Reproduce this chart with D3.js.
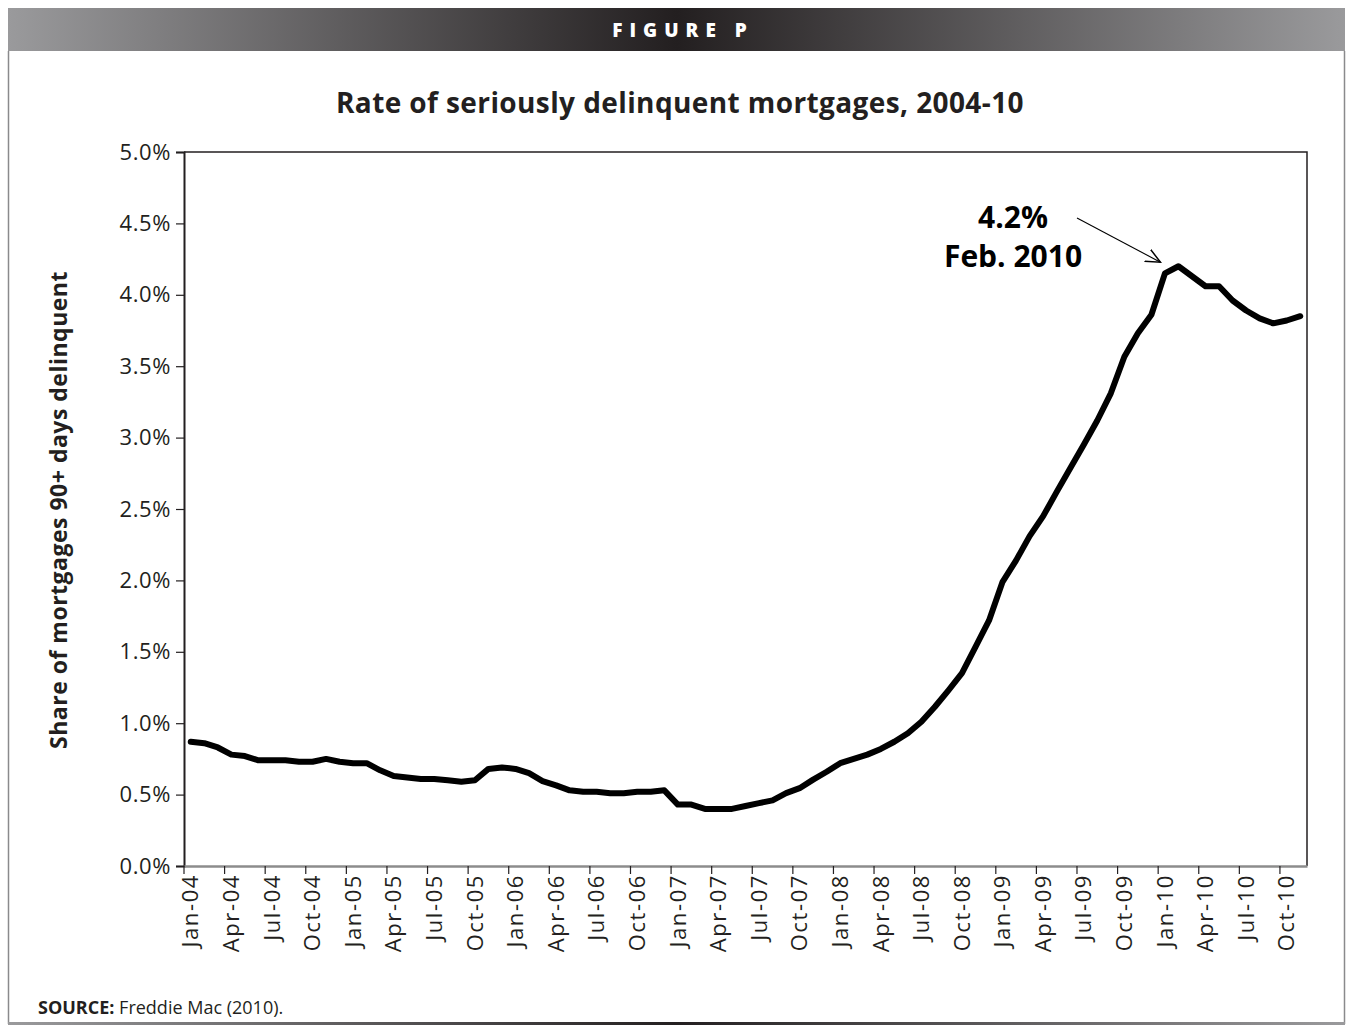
<!DOCTYPE html>
<html>
<head>
<meta charset="utf-8">
<script src="https://cdn.jsdelivr.net/npm/d3@7"></script>
<style>
  html, body { margin: 0; padding: 0; background: #fff; }
  svg { display: block; }
</style>
</head>
<body>
<script>
// ---- Data ----
const monthNames = ["Jan","Feb","Mar","Apr","May","Jun","Jul","Aug","Sep","Oct","Nov","Dec"];
const years = ["04","05","06","07","08","09","10"];
const months = [];
years.forEach(y => monthNames.forEach(m => months.push(m + "-" + y)));
months.splice(83); // Jan-04 .. Nov-10

const values = [
  0.87, 0.86, 0.83, 0.78, 0.77, 0.74, 0.74, 0.74, 0.73, 0.73, 0.75, 0.73,
  0.72, 0.72, 0.67, 0.63, 0.62, 0.61, 0.61, 0.60, 0.59, 0.60, 0.68, 0.69,
  0.68, 0.65, 0.595, 0.565, 0.53, 0.52, 0.52, 0.51, 0.51, 0.52, 0.52, 0.53,
  0.43, 0.43, 0.40, 0.40, 0.40, 0.42, 0.44, 0.46, 0.51, 0.545, 0.605, 0.66,
  0.72, 0.75, 0.78, 0.82, 0.87, 0.93, 1.01, 1.115, 1.23, 1.35, 1.535, 1.72,
  1.99, 2.14, 2.31, 2.45, 2.62, 2.785, 2.95, 3.12, 3.31, 3.566, 3.73, 3.86,
  4.15, 4.20, 4.13, 4.06, 4.06, 3.96, 3.89, 3.835, 3.80, 3.82, 3.85
];

const xTickLabels = months.filter((m, i) => i % 3 === 0);
const yTicks = [0, 0.5, 1.0, 1.5, 2.0, 2.5, 3.0, 3.5, 4.0, 4.5, 5.0];

const titleText = "Rate of seriously delinquent mortgages, 2004-10";
const yLabelText = "Share of mortgages 90+ days delinquent";
const figureText = "FIGURE P";
const annotValue = "4.2%";
const annotDate = "Feb. 2010";
const annotMonth = "Feb-10";

// ---- Layout ----
const W = 1353, H = 1027;
const plot = { left: 184, right: 1307, top: 152, bottom: 866 };
const FONT = "'Open Sans', 'Noto Sans', sans-serif";

const svg = d3.select("body").append("svg").attr("width", W).attr("height", H);

const defs = svg.append("defs");
const grad = defs.append("linearGradient").attr("id", "hdr").attr("x1", "0%").attr("x2", "100%");
grad.append("stop").attr("offset", "0%").attr("stop-color", "#9a9a9c");
grad.append("stop").attr("offset", "50%").attr("stop-color", "#231f20");
grad.append("stop").attr("offset", "100%").attr("stop-color", "#9a9a9c");

const mk = defs.append("marker").attr("id", "arrow")
  .attr("viewBox", "0 0 12 12").attr("refX", 11).attr("refY", 6)
  .attr("markerWidth", 16).attr("markerHeight", 16).attr("markerUnits", "userSpaceOnUse")
  .attr("orient", "auto");
mk.append("path").attr("d", "M0,1 L11,6 L0,11").attr("fill", "none").attr("stroke", "#000").attr("stroke-width", 1.1);

// Header bar
svg.append("rect").attr("x", 8).attr("y", 8).attr("width", 1337).attr("height", 43).attr("fill", "url(#hdr)");
svg.append("text").attr("x", 683).attr("y", 37).attr("text-anchor", "middle")
  .attr("fill", "#fff").attr("font-family", FONT).attr("font-weight", 800)
  .attr("font-size", 19).attr("letter-spacing", 7).text(figureText);

// Frame
svg.append("line").attr("x1", 8.5).attr("x2", 8.5).attr("y1", 51).attr("y2", 1024).attr("stroke", "#8a8a8c").attr("stroke-width", 1.5);
svg.append("line").attr("x1", 1344.5).attr("x2", 1344.5).attr("y1", 51).attr("y2", 1024).attr("stroke", "#8a8a8c").attr("stroke-width", 1.5);
svg.append("rect").attr("x", 8).attr("y", 1022).attr("width", 1337).attr("height", 3).attr("fill", "url(#hdr)");

// Title
svg.append("text").attr("x", 680).attr("y", 113).attr("text-anchor", "middle")
  .attr("font-family", FONT).attr("font-weight", 700).attr("font-size", 28)
  .attr("letter-spacing", 0.4)
  .attr("fill", "#231f20").text(titleText);

// Scales
const x = d3.scaleBand().domain(months).range([plot.left, plot.right]).padding(0);
const y = d3.scaleLinear().domain([0, 5]).range([plot.bottom, plot.top]);
const bw = x.bandwidth();

// Plot border (top/right)
svg.append("path")
  .attr("d", `M${plot.left},${plot.top}H${plot.right}V${plot.bottom}`)
  .attr("fill", "none").attr("stroke", "#231f20").attr("stroke-width", 1.5);

// Y axis
const yAxis = svg.append("g").attr("transform", `translate(${plot.left},0)`)
  .call(d3.axisLeft(y).tickValues(yTicks).tickSize(8).tickPadding(5)
    .tickFormat(d => d3.format(".1f")(d) + "%"));
yAxis.select(".domain").attr("stroke", "#231f20").attr("stroke-width", 2);
yAxis.selectAll(".tick line").attr("stroke", "#231f20").attr("stroke-width", 1.2);
yAxis.selectAll(".tick text").attr("font-family", FONT).attr("font-size", 22)
  .attr("letter-spacing", 0.6).attr("fill", "#231f20");

// X axis
const xAxis = svg.append("g").attr("transform", `translate(0,${plot.bottom})`)
  .call(d3.axisBottom(x).tickValues(xTickLabels).tickSize(8).tickSizeOuter(0).tickPadding(6));
xAxis.select(".domain").attr("stroke", "#8c8c8c").attr("stroke-width", 2.5);
xAxis.selectAll(".tick line").attr("transform", `translate(${-bw / 2},0)`)
  .attr("stroke", "#231f20").attr("stroke-width", 1.2);
xAxis.selectAll(".tick text")
  .attr("font-family", FONT).attr("font-size", 22).attr("fill", "#231f20")
  .attr("letter-spacing", 1.6)
  .attr("text-anchor", "end").attr("dy", "0.35em")
  .attr("transform", "translate(0,8) rotate(-90)")
  .attr("x", 0).attr("y", 0);

// Y axis label
svg.append("text")
  .attr("transform", `translate(67,${(plot.top + plot.bottom) / 2 + 1}) rotate(-90)`)
  .attr("text-anchor", "middle").attr("font-family", FONT).attr("font-weight", 700)
  .attr("font-size", 23).attr("letter-spacing", 0.5).attr("fill", "#231f20").text(yLabelText);

// Line
const line = d3.line()
  .x((d, i) => x(months[i]) + bw / 2)
  .y(d => y(d));
svg.append("path").datum(values).attr("d", line)
  .attr("fill", "none").attr("stroke", "#000").attr("stroke-width", 6)
  .attr("stroke-linejoin", "round").attr("stroke-linecap", "round");

// Annotation
const peakIdx = months.indexOf(annotMonth);
const px = x(months[peakIdx]) + bw / 2;
const py = y(values[peakIdx]);
svg.append("text").attr("x", 1013).attr("y", 228).attr("text-anchor", "middle")
  .attr("font-family", FONT).attr("font-weight", 700).attr("font-size", 30).attr("fill", "#000").text(annotValue);
svg.append("text").attr("x", 1013).attr("y", 267).attr("text-anchor", "middle")
  .attr("font-family", FONT).attr("font-weight", 700).attr("font-size", 30).attr("fill", "#000").text(annotDate);
svg.append("line").attr("x1", 1077).attr("y1", 218).attr("x2", px - 18).attr("y2", py - 4)
  .attr("stroke", "#000").attr("stroke-width", 1.1).attr("marker-end", "url(#arrow)");

// Source
const src = svg.append("text").attr("x", 38).attr("y", 1014)
  .attr("font-family", FONT).attr("font-size", 18).attr("fill", "#231f20");
src.append("tspan").attr("font-weight", 700).text("SOURCE:");
src.append("tspan").attr("font-weight", 400).text(" Freddie Mac (2010).");
</script>
</body>
</html>
